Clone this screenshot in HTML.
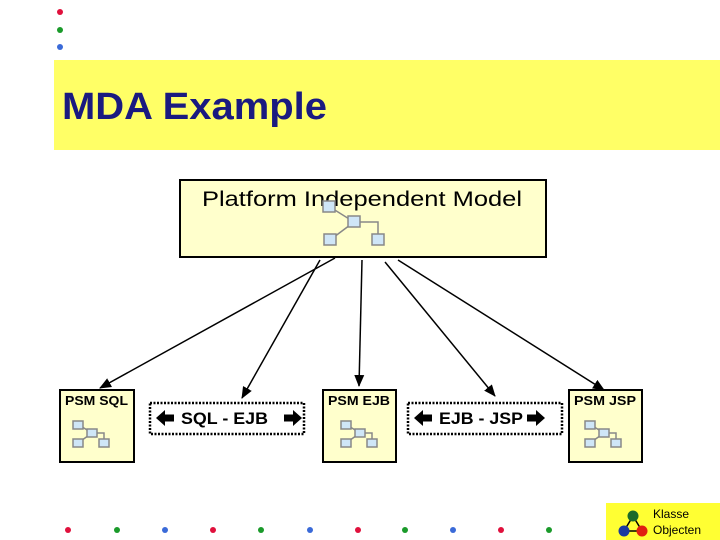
<!DOCTYPE html>
<html><head><style>body{margin:0;background:#fff}svg{display:block}</style></head><body>
<svg width="720" height="540" xmlns="http://www.w3.org/2000/svg" font-family="Liberation Sans, sans-serif">
<defs><marker id="a" markerWidth="12" markerHeight="12" refX="11" refY="6" orient="auto" markerUnits="userSpaceOnUse"><path d="M0,1L12,6L0,11z" fill="#000"/></marker>
<g id="ic" fill="#cfe6f7" stroke="#888" stroke-width="1.5"><path d="M6,4L19,12M19,12L5,22M19,12L31,12L31,21" fill="none"/><rect x="0" y="0" width="10" height="8"/><rect x="14" y="8" width="10" height="8"/><rect x="0" y="18" width="10" height="8"/><rect x="26" y="18" width="10" height="8"/></g>
<path id="la" d="M0,0L9,-8L9,-3.5L18,-3.5L18,3.5L9,3.5L9,8z" fill="#000"/>
<path id="ra" d="M0,0L-9,-8L-9,-3.5L-18,-3.5L-18,3.5L-9,3.5L-9,8z" fill="#000"/></defs>
<circle cx="60" cy="12" r="3" fill="#e0103c"/><circle cx="60" cy="30" r="3" fill="#1a9a2a"/><circle cx="60" cy="47" r="3" fill="#3a6ad8"/>
<rect x="54" y="60" width="666" height="90" fill="#ffff66"/>
<text x="62" y="119" font-size="38" font-weight="bold" fill="#1a1a80" textLength="265" lengthAdjust="spacingAndGlyphs">MDA Example</text>
<rect x="180" y="180" width="366" height="77" fill="#ffffcc" stroke="#000" stroke-width="2"/>
<text x="202" y="206" font-size="21" textLength="320" lengthAdjust="spacingAndGlyphs">Platform Independent Model</text>
<g fill="#cfe6f7" stroke="#888" stroke-width="1.5"><path d="M330,207L354,222L330,240M354,222L378,222L378,238" fill="none"/><rect x="323" y="201" width="12" height="11"/><rect x="348" y="216" width="12" height="11"/><rect x="324" y="234" width="12" height="11"/><rect x="372" y="234" width="12" height="11"/></g>
<g stroke="#000" stroke-width="1.5" marker-end="url(#a)"><line x1="335" y1="258" x2="100" y2="388"/><line x1="320" y1="260" x2="242" y2="398"/><line x1="362" y1="260" x2="359" y2="386"/><line x1="385" y1="262" x2="495" y2="396"/><line x1="398" y1="260" x2="604" y2="390"/></g>
<g fill="#ffffcc" stroke="#000" stroke-width="2"><rect x="60" y="390" width="74" height="72"/><rect x="323" y="390" width="73" height="72"/><rect x="569" y="390" width="73" height="72"/></g>
<g font-size="13" font-weight="bold"><text x="65" y="405" textLength="63" lengthAdjust="spacingAndGlyphs">PSM SQL</text><text x="328" y="405" textLength="62" lengthAdjust="spacingAndGlyphs">PSM EJB</text><text x="574" y="405" textLength="62" lengthAdjust="spacingAndGlyphs">PSM JSP</text></g>
<use href="#ic" transform="translate(73,421)"/><use href="#ic" transform="translate(341,421)"/><use href="#ic" transform="translate(585,421)"/>
<g fill="#fff" stroke="#000" stroke-width="2.5" stroke-dasharray="2,1.5"><rect x="150" y="403" width="154" height="31"/><rect x="408" y="403" width="154" height="31"/></g>
<g font-size="17" font-weight="bold"><text x="181" y="424" textLength="87" lengthAdjust="spacingAndGlyphs">SQL - EJB</text><text x="439" y="424" textLength="84" lengthAdjust="spacingAndGlyphs">EJB - JSP</text></g>
<use href="#la" x="156" y="418"/><use href="#ra" x="302" y="418"/>
<use href="#la" x="414" y="418"/><use href="#ra" x="545" y="418"/>
<g><circle cx="68" cy="530" r="3" fill="#e0103c"/><circle cx="117" cy="530" r="3" fill="#1a9a2a"/><circle cx="165" cy="530" r="3" fill="#3a6ad8"/><circle cx="213" cy="530" r="3" fill="#e0103c"/><circle cx="261" cy="530" r="3" fill="#1a9a2a"/><circle cx="310" cy="530" r="3" fill="#3a6ad8"/><circle cx="358" cy="530" r="3" fill="#e0103c"/><circle cx="405" cy="530" r="3" fill="#1a9a2a"/><circle cx="453" cy="530" r="3" fill="#3a6ad8"/><circle cx="501" cy="530" r="3" fill="#e0103c"/><circle cx="549" cy="530" r="3" fill="#1a9a2a"/></g>
<rect x="606" y="503" width="114" height="37" fill="#ffff33"/>
<path d="M633,516L624,531L642,531z" fill="none" stroke="#000" stroke-width="1.5"/>
<circle cx="633" cy="516" r="5.5" fill="#1a6a2a"/><circle cx="624" cy="531" r="5.5" fill="#1a3aa0"/><circle cx="642" cy="531" r="5.5" fill="#e02010"/>
<text x="653" y="518" font-size="12">Klasse</text><text x="653" y="534" font-size="12">Objecten</text>
</svg>
</body></html>
